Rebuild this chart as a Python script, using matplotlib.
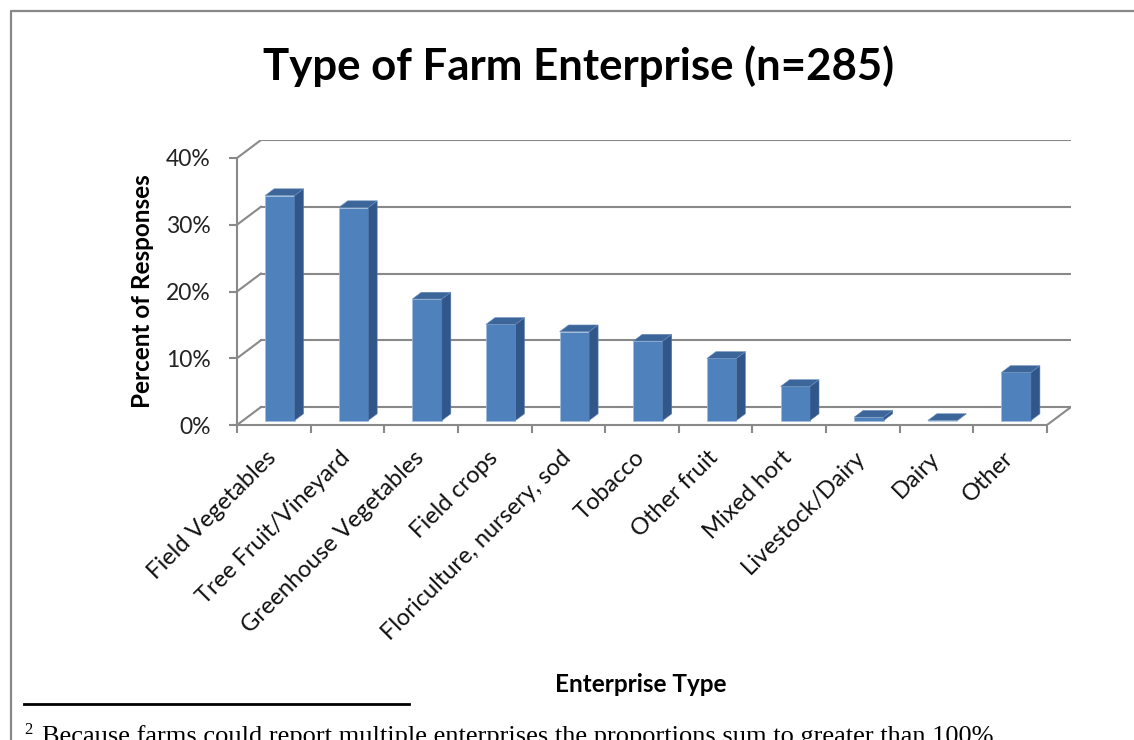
import matplotlib
matplotlib.use("Agg")
import matplotlib.pyplot as plt
from matplotlib.patches import Polygon
from matplotlib.lines import Line2D

plt.rcParams['font.family'] = ['Lato', 'DejaVu Sans']

# data
categories = ["Field Vegetables", "Tree Fruit/Vineyard", "Greenhouse Vegetables",
              "Field crops", "Floriculture, nursery, sod", "Tobacco", "Other fruit",
              "Mixed hort", "Livestock/Dairy", "Dairy", "Other"]
percent = [33.7, 31.9, 18.2, 14.4, 13.3, 11.9, 9.3, 5.1, 0.5, 0.0, 7.2]
y_ticks = [0, 10, 20, 30, 40]
y_tick_labels = ["0%", "10%", "20%", "30%", "40%"]

title = "Type of Farm Enterprise (n=285)"
x_title = "Enterprise Type"
y_title = "Percent of Responses"
footnote = "Because farms could report multiple enterprises the proportions sum to greater than 100%"

W, H = 1134, 740
fig = plt.figure(figsize=(W / 100, H / 100), dpi=100)


def fx(px):
    return px / W


def fy(py):
    return 1 - py / H


grid_col = "#898989"
front_col = "#4F81BD"
side_col = "#31568A"
top_col = "#3C6699"

n = len(categories)
# oblique depth of the back wall, in data units (x: categories, y: percent)
DX = 24 / 73.64
DY = 18 / 6.675
f0 = 0.25     # depth of the bar front face
depth = 0.375  # bar depth
bw = 0.40

ax = fig.add_axes([fx(237), fy(425), fx(1071) - fx(237), fy(140) - fy(425)])
ax.set_xlim(0, n + DX)
ax.set_ylim(0, 40 + DY)
ax.patch.set_alpha(0)

# back wall gridlines and side wall diagonals
for v in y_ticks:
    ax.plot([DX, n + DX], [v + DY, v + DY], color=grid_col, lw=1.5, zorder=1)
    ax.plot([0, DX], [v, v + DY], color=grid_col, lw=1.5, zorder=1)
ax.plot([n, n + DX], [0, DY], color=grid_col, lw=1.5, zorder=1)

# bars: front face via bar(), side and top as polygons
centers = [i + 0.5 + f0 * DX for i in range(n)]
base = f0 * DY
ax.bar(centers, percent, width=bw, bottom=base, color=front_col,
       edgecolor="#A3BDDD", linewidth=0.5, zorder=3)
ddx, ddy = depth * DX, depth * DY
for c, v in zip(centers, percent):
    xl, xr = c - bw / 2, c + bw / 2
    top = base + v
    side = Polygon([(xr, base), (xr + ddx, base + ddy), (xr + ddx, top + ddy), (xr, top)],
                   closed=True, facecolor=side_col, edgecolor="#5A7FAF", lw=0.4, zorder=3)
    lid = Polygon([(xl, top), (xr, top), (xr + ddx, top + ddy), (xl + ddx, top + ddy)],
                  closed=True, facecolor=top_col, edgecolor="#6A8DBB", lw=0.4, zorder=3)
    ax.add_patch(side)
    ax.add_patch(lid)

# front axes
for s in ["top", "right"]:
    ax.spines[s].set_visible(False)
ax.spines["left"].set_bounds(0, 40)
ax.spines["bottom"].set_bounds(0, n)
for s in ["left", "bottom"]:
    ax.spines[s].set_color(grid_col)
    ax.spines[s].set_linewidth(1.5)
    ax.spines[s].set_zorder(2)

ax.set_yticks(y_ticks, y_tick_labels)
ax.tick_params(axis="y", length=6, width=1.5, color=grid_col, pad=13,
               labelsize=16.5, labelcolor="#222222")
ax.set_xticks(range(n + 1), [""] * (n + 1))
ax.tick_params(axis="x", which="major", length=6, width=1.5, color=grid_col)
# category labels hang from just left of each slot centre
ax.set_xticks([i + 0.39 for i in range(n)], categories, minor=True)
ax.tick_params(axis="x", which="minor", length=0, pad=16, labelsize=17,
               labelcolor="#111111")
for lbl in ax.get_xticklabels(minor=True):
    lbl.set_rotation(45)
    lbl.set_ha("right")
    lbl.set_rotation_mode("anchor")

ax.set_ylabel(y_title, fontsize=17.5, fontweight="bold")
ax.yaxis.set_label_coords(-0.100, 0.468)
ax.set_xlabel(x_title, fontsize=17.5, fontweight="bold")
ax.xaxis.set_label_coords(0.4844, -0.87)
ax.xaxis.label.set_va("top")

fig.text(fx(578.5), fy(80), title, ha="center", va="baseline",
         fontsize=31.5, fontweight="bold")

# chart frame (only left and top edges fall inside the picture)
fig.add_artist(Line2D([fx(11), fx(11), fx(W + 5)], [fy(H + 5), fy(11), fy(11)],
                      color="#888888", lw=1.6))

# footnote
fig.add_artist(Line2D([fx(24), fx(409)], [fy(704), fy(704)], color="black", lw=2.0))
fig.text(fx(24), fy(734), "2", fontsize=12, family="Liberation Serif", va="baseline")
fig.text(fx(42), fy(743), footnote, fontsize=19, family="Liberation Serif", va="baseline")

fig.savefig("out.png", dpi=100)
